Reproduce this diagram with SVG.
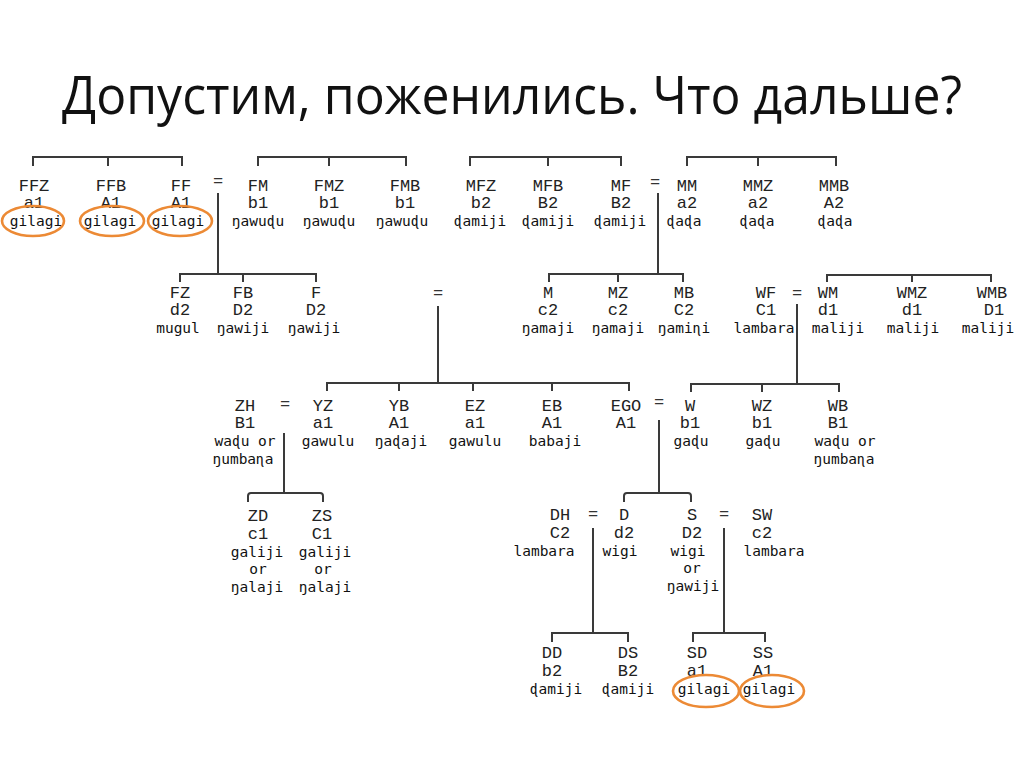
<svg xmlns="http://www.w3.org/2000/svg" width="1024" height="767" viewBox="0 0 1024 767">
<style>
.t{font-family:"Open Sans","Liberation Sans",sans-serif;font-size:53px;fill:#111}
.n{font-family:"Liberation Mono","DejaVu Sans Mono",monospace;font-size:17px;fill:#222;text-anchor:middle}
.w{font-family:"DejaVu Sans Mono","Liberation Mono",monospace;font-size:14.5px;fill:#111;text-anchor:middle}
.e{font-family:"Liberation Mono","DejaVu Sans Mono",monospace;font-size:17px;fill:#333;text-anchor:middle}
.l{stroke:#3a3a3a;stroke-width:2;fill:none}
.o{stroke:#EC8A35;stroke-width:2.6;fill:none}
</style>
<rect width="1024" height="767" fill="#fff"/>
<text class="t" x="62" y="114" textLength="900" lengthAdjust="spacingAndGlyphs">Допустим, поженились. Что дальше?</text>

<g id="connectors" class="l">
<path d="M33 166V157H182V166M108 157V166"/>
<path d="M258 166V157H406V166M329 157V166"/>
<path d="M470 166V157H621V166M548 157V166"/>
<path d="M687 166V157H836V166M758 157V166"/>
<path d="M218 193V274"/>
<path d="M658 193V274"/>
<path d="M180 282V274H316V282M243 274V282"/>
<path d="M549 282V274H683V282M618 274V282"/>
<path d="M827 282V275H991V282M912 275V282"/>
<path d="M438 306V383"/>
<path d="M797 304V384"/>
<path d="M327 391V383H629V391M399 383V391M473 383V391M552 383V391"/>
<path d="M691 392V384H839V392M762 384V392"/>
<path d="M284 433V493"/>
<path d="M248 502V496Q248 493 251 493H320Q323 493 323 496V502"/>
<path d="M659 420V493"/>
<path d="M624 502V496Q624 493 627 493H688Q691 493 691 496V502"/>
<path d="M593 528V633"/>
<path d="M724 528V633"/>
<path d="M552 642V633H628V642"/>
<path d="M693 642V633H765V642"/>
</g>

<g id="equals">
<text class="e" x="218" y="186">=</text>
<text class="e" x="655" y="187">=</text>
<text class="e" x="438" y="298">=</text>
<text class="e" x="797" y="298">=</text>
<text class="e" x="285" y="409">=</text>
<text class="e" x="659" y="407">=</text>
<text class="e" x="593" y="519">=</text>
<text class="e" x="724" y="519">=</text>
</g>

<g id="FFZ"><text class="n" x="34" y="191">FFZ</text><text class="n" x="34" y="208">a1</text><text class="w" x="36" y="226">gilagi</text><ellipse class="o" cx="33" cy="221" rx="31" ry="15"/></g>
<g id="FFB"><text class="n" x="111" y="191">FFB</text><text class="n" x="111" y="208">A1</text><text class="w" x="110" y="226">gilagi</text><ellipse class="o" cx="112" cy="221" rx="32" ry="15"/></g>
<g id="FF"><text class="n" x="181" y="191">FF</text><text class="n" x="181" y="208">A1</text><text class="w" x="178" y="226">gilagi</text><ellipse class="o" cx="180" cy="221" rx="32" ry="15"/></g>
<g id="FM"><text class="n" x="258" y="191">FM</text><text class="n" x="258" y="208">b1</text><text class="w" x="258" y="226">ŋawuɖu</text></g>
<g id="FMZ"><text class="n" x="329" y="191">FMZ</text><text class="n" x="329" y="208">b1</text><text class="w" x="329" y="226">ŋawuɖu</text></g>
<g id="FMB"><text class="n" x="405" y="191">FMB</text><text class="n" x="405" y="208">b1</text><text class="w" x="402" y="226">ŋawuɖu</text></g>
<g id="MFZ"><text class="n" x="481" y="191">MFZ</text><text class="n" x="481" y="208">b2</text><text class="w" x="480" y="226">ɖamiji</text></g>
<g id="MFB"><text class="n" x="548" y="191">MFB</text><text class="n" x="548" y="208">B2</text><text class="w" x="548" y="226">ɖamiji</text></g>
<g id="MF"><text class="n" x="621" y="191">MF</text><text class="n" x="621" y="208">B2</text><text class="w" x="620" y="226">ɖamiji</text></g>
<g id="MM"><text class="n" x="687" y="191">MM</text><text class="n" x="687" y="208">a2</text><text class="w" x="684" y="226">ɖaɖa</text></g>
<g id="MMZ"><text class="n" x="758" y="191">MMZ</text><text class="n" x="758" y="208">a2</text><text class="w" x="757" y="226">ɖaɖa</text></g>
<g id="MMB"><text class="n" x="834" y="191">MMB</text><text class="n" x="834" y="208">A2</text><text class="w" x="835" y="226">ɖaɖa</text></g>

<g id="FZ"><text class="n" x="180" y="298">FZ</text><text class="n" x="180" y="315">d2</text><text class="w" x="178" y="333">mugul</text></g>
<g id="FB"><text class="n" x="243" y="298">FB</text><text class="n" x="243" y="315">D2</text><text class="w" x="243" y="333">ŋawiji</text></g>
<g id="F"><text class="n" x="316" y="298">F</text><text class="n" x="316" y="315">D2</text><text class="w" x="314" y="333">ŋawiji</text></g>
<g id="M"><text class="n" x="548" y="298">M</text><text class="n" x="548" y="315">c2</text><text class="w" x="548" y="333">ŋamaji</text></g>
<g id="MZ"><text class="n" x="618" y="298">MZ</text><text class="n" x="618" y="315">c2</text><text class="w" x="618" y="333">ŋamaji</text></g>
<g id="MB"><text class="n" x="684" y="298">MB</text><text class="n" x="684" y="315">C2</text><text class="w" x="684" y="333">ŋamiɳi</text></g>
<g id="WF"><text class="n" x="766" y="298">WF</text><text class="n" x="766" y="315">C1</text><text class="w" x="764" y="333">lambara</text></g>
<g id="WM"><text class="n" x="828" y="298">WM</text><text class="n" x="828" y="315">d1</text><text class="w" x="838" y="333">maliji</text></g>
<g id="WMZ"><text class="n" x="912" y="298">WMZ</text><text class="n" x="912" y="315">d1</text><text class="w" x="913" y="333">maliji</text></g>
<g id="WMB"><text class="n" x="992" y="298">WMB</text><text class="n" x="994" y="315">D1</text><text class="w" x="988" y="333">maliji</text></g>

<g id="ZH"><text class="n" x="245" y="411">ZH</text><text class="n" x="245" y="428">B1</text><text class="w" x="245" y="446">waɖu or</text><text class="w" x="243" y="464">ŋumbaɳa</text></g>
<g id="YZ"><text class="n" x="323" y="411">YZ</text><text class="n" x="323" y="428">a1</text><text class="w" x="328" y="446">gawulu</text></g>
<g id="YB"><text class="n" x="399" y="411">YB</text><text class="n" x="399" y="428">A1</text><text class="w" x="401" y="446">ŋaɖaji</text></g>
<g id="EZ"><text class="n" x="475" y="411">EZ</text><text class="n" x="475" y="428">a1</text><text class="w" x="475" y="446">gawulu</text></g>
<g id="EB"><text class="n" x="552" y="411">EB</text><text class="n" x="552" y="428">A1</text><text class="w" x="555" y="446">babaji</text></g>
<g id="EGO"><text class="n" x="626" y="411">EGO</text><text class="n" x="626" y="428">A1</text></g>
<g id="W"><text class="n" x="690" y="411">W</text><text class="n" x="690" y="428">b1</text><text class="w" x="691" y="446">gaɖu</text></g>
<g id="WZ"><text class="n" x="762" y="411">WZ</text><text class="n" x="762" y="428">b1</text><text class="w" x="763" y="446">gaɖu</text></g>
<g id="WB"><text class="n" x="838" y="411">WB</text><text class="n" x="838" y="428">B1</text><text class="w" x="845" y="446">waɖu or</text><text class="w" x="844" y="464">ŋumbaɳa</text></g>

<g id="ZD"><text class="n" x="258" y="521">ZD</text><text class="n" x="258" y="539">c1</text><text class="w" x="257" y="557">galiji</text><text class="w" x="258" y="574">or</text><text class="w" x="257" y="592">ŋalaji</text></g>
<g id="ZS"><text class="n" x="322" y="521">ZS</text><text class="n" x="322" y="539">C1</text><text class="w" x="325" y="557">galiji</text><text class="w" x="323" y="574">or</text><text class="w" x="325" y="592">ŋalaji</text></g>
<g id="DH"><text class="n" x="560" y="520">DH</text><text class="n" x="560" y="538">C2</text><text class="w" x="544" y="556">lambara</text></g>
<g id="D"><text class="n" x="624" y="520">D</text><text class="n" x="624" y="538">d2</text><text class="w" x="620" y="556">wigi</text></g>
<g id="S"><text class="n" x="692" y="520">S</text><text class="n" x="692" y="538">D2</text><text class="w" x="688" y="556">wigi</text><text class="w" x="692" y="573">or</text><text class="w" x="693" y="591">ŋawiji</text></g>
<g id="SW"><text class="n" x="762" y="520">SW</text><text class="n" x="762" y="538">c2</text><text class="w" x="774" y="556">lambara</text></g>

<g id="DD"><text class="n" x="552" y="658">DD</text><text class="n" x="552" y="676">b2</text><text class="w" x="556" y="694">ɖamiji</text></g>
<g id="DS"><text class="n" x="628" y="658">DS</text><text class="n" x="628" y="676">B2</text><text class="w" x="628" y="694">ɖamiji</text></g>
<g id="SD"><text class="n" x="697" y="658">SD</text><text class="n" x="697" y="676">a1</text><text class="w" x="704" y="694">gilagi</text><ellipse class="o" cx="706" cy="691" rx="33" ry="16"/></g>
<g id="SS"><text class="n" x="763" y="658">SS</text><text class="n" x="763" y="676">A1</text><text class="w" x="769" y="694">gilagi</text><ellipse class="o" cx="772" cy="691" rx="32" ry="16"/></g>
</svg>
